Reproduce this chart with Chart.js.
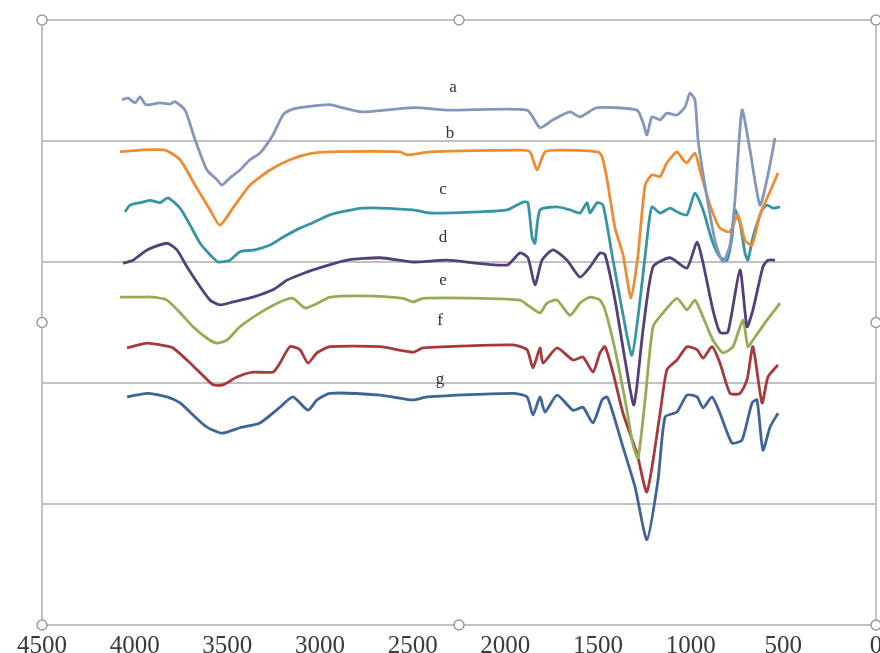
<!DOCTYPE html>
<html lang="en">
<head>
    <meta charset="UTF-8">
    <title>FTIR spectra a-g</title>
    <style>
        body {
            margin: 0;
            background: #ffffff;
            overflow: hidden;
        }
        #wrap {
            width: 890px;
            height: 653px;
        }
    </style>
</head>
<body>
    <div id="wrap"><canvas id="spectra"></canvas></div>

    <script src="https://cdn.jsdelivr.net/npm/chart.js"></script>
    <script>
        // wavenumber (cm-1), transmittance (relative, offset per sample)
        const specA = [[4068,86.8],[4036,87.1],[3998,86.3],[3971,87.3],[3944,86.1],[3917,86.0],[3863,86.3],[3809,86.1],[3782,86.5],[3728,85.1],[3674,80.2],[3610,75.2],[3556,73.6],[3529,72.7],[3486,73.9],[3432,75.2],[3378,76.9],[3324,78.0],[3254,81.0],[3200,84.3],[3162,85.1],[3108,85.5],[2946,86.0],[2892,85.6],[2768,84.8],[2498,85.5],[2299,85.1],[1883,85.1],[1813,82.2],[1743,83.5],[1651,84.8],[1597,84.0],[1505,85.5],[1290,85.1],[1257,83.0],[1236,81.0],[1209,84.0],[1165,83.5],[1128,84.6],[1074,84.3],[1031,85.6],[1004,87.9],[977,86.8],[960,80.2],[923,72.7],[869,63.6],[826,60.0],[788,62.8],[761,70.2],[723,85.1],[680,78.5],[626,69.4],[583,74.4],[545,80.5]];
        const specB = [[4079,78.2],[3971,78.5],[3836,78.5],[3755,76.9],[3674,72.7],[3593,68.6],[3540,66.1],[3459,69.4],[3378,72.7],[3270,75.2],[3162,76.9],[3054,77.9],[2946,78.2],[2568,78.2],[2531,77.7],[2406,78.2],[1921,78.5],[1867,78.2],[1829,75.2],[1786,78.2],[1705,78.5],[1500,78.2],[1478,77.4],[1451,73.6],[1408,65.6],[1365,61.2],[1322,54.0],[1284,61.2],[1246,72.7],[1209,74.4],[1165,74.1],[1128,76.4],[1074,78.2],[1041,76.9],[1020,76.4],[977,78.0],[950,75.2],[896,69.4],[842,65.6],[788,65.0],[745,67.8],[707,63.6],[669,62.8],[626,67.8],[572,71.6],[529,74.7]];
        const specC = [[4052,68.3],[4025,69.4],[3971,69.8],[3917,70.2],[3863,69.8],[3820,70.6],[3755,68.9],[3701,66.1],[3647,63.1],[3593,61.2],[3550,60.0],[3486,60.3],[3432,61.7],[3351,62.0],[3270,62.8],[3200,64.1],[3108,65.6],[3038,66.5],[2946,67.8],[2768,68.9],[2498,68.6],[2406,68.1],[2137,68.3],[1991,68.6],[1905,69.9],[1878,69.8],[1856,64.1],[1840,63.1],[1813,68.6],[1721,69.1],[1651,68.6],[1597,68.1],[1559,69.8],[1543,68.1],[1505,69.8],[1473,69.4],[1424,61.2],[1370,52.1],[1317,44.6],[1273,53.7],[1230,65.3],[1209,69.1],[1165,68.1],[1111,68.9],[1074,68.3],[1020,67.8],[977,71.4],[933,68.6],[885,63.6],[842,60.8],[804,60.3],[777,64.1],[761,68.6],[734,66.5],[707,61.5],[691,60.3],[664,64.1],[615,68.6],[588,69.4],[556,68.9],[518,69.1]];
        const specD = [[4063,59.8],[4009,60.3],[3933,62.0],[3826,63.1],[3772,62.0],[3718,59.2],[3647,55.9],[3593,53.7],[3540,52.9],[3469,53.4],[3362,54.2],[3254,55.4],[3178,57.0],[3108,57.9],[3038,58.7],[2854,60.3],[2676,60.7],[2498,60.0],[2315,60.3],[1991,59.5],[1921,61.5],[1878,60.7],[1840,56.2],[1802,60.3],[1743,62.0],[1667,60.3],[1597,57.5],[1543,59.2],[1489,61.5],[1462,61.2],[1408,53.7],[1354,43.8],[1306,36.4],[1257,48.8],[1203,59.2],[1111,60.7],[1020,59.0],[966,63.3],[933,59.8],[880,52.1],[842,48.4],[799,48.4],[734,58.7],[696,49.3],[664,52.1],[610,59.2],[583,60.3],[545,60.3]];
        const specE = [[4079,54.2],[3971,54.2],[3901,54.2],[3826,53.7],[3755,51.6],[3685,49.3],[3610,47.4],[3556,46.6],[3502,47.1],[3432,49.3],[3324,51.6],[3216,53.4],[3146,54.0],[3081,52.4],[3000,53.4],[2946,54.2],[2768,54.4],[2552,54.0],[2498,53.4],[2444,54.0],[2137,54.0],[1921,53.7],[1867,52.6],[1813,51.6],[1775,53.2],[1721,53.7],[1651,51.2],[1597,53.2],[1543,54.2],[1489,53.7],[1462,52.1],[1408,45.5],[1354,37.2],[1311,29.8],[1284,27.6],[1246,37.2],[1203,49.3],[1149,51.6],[1074,54.0],[1020,52.1],[977,53.7],[933,50.9],[880,47.1],[826,45.0],[772,46.0],[718,50.4],[691,46.0],[664,47.1],[588,50.4],[518,53.2]];
        const specF = [[4041,45.8],[3933,46.6],[3863,46.3],[3793,45.8],[3718,43.8],[3647,41.7],[3577,39.7],[3523,39.7],[3448,41.0],[3362,41.8],[3254,41.8],[3216,43.3],[3162,46.0],[3108,45.5],[3065,43.3],[3016,45.0],[2946,46.0],[2676,46.0],[2498,45.1],[2444,45.8],[1959,46.3],[1883,45.5],[1851,42.5],[1813,45.8],[1797,43.3],[1721,45.8],[1635,43.8],[1581,44.3],[1527,41.8],[1489,45.0],[1462,46.0],[1419,41.7],[1365,35.0],[1290,28.4],[1236,22.0],[1165,35.0],[1128,42.2],[1074,43.8],[1020,46.0],[966,45.5],[933,44.1],[885,46.0],[842,43.3],[788,38.3],[734,38.3],[696,40.5],[664,46.0],[615,36.7],[583,41.0],[529,43.0]];
        const specG = [[4041,37.7],[3933,38.3],[3826,37.7],[3755,36.7],[3685,34.7],[3610,32.7],[3529,31.7],[3432,32.6],[3324,33.4],[3216,36.0],[3146,37.7],[3065,35.5],[3016,37.2],[2946,38.3],[2676,38.0],[2498,37.2],[2423,37.7],[1959,38.3],[1883,37.7],[1851,34.7],[1813,37.7],[1786,35.2],[1721,38.0],[1635,35.5],[1581,36.0],[1527,33.4],[1478,37.2],[1451,37.7],[1419,35.0],[1365,29.4],[1300,22.8],[1236,14.1],[1176,24.0],[1138,34.4],[1074,35.2],[1020,38.0],[966,37.7],[933,35.9],[885,37.7],[842,35.0],[777,30.1],[723,30.6],[669,36.7],[642,37.2],[610,28.9],[572,32.7],[529,35.0]];

        const seriesNames = ['a', 'b', 'c', 'd', 'e', 'f', 'g'];
        const seriesColors = ['#8596bd', '#ec8d35', '#3795a3', '#553f7a', '#94ad55', '#a8393a', '#3f6497'];
        // where the letters sit (wavenumber, transmittance)
        const labelWn = [2282, 2299, 2336, 2336, 2336, 2352, 2352];
        const labelT = [88.9, 81.3, 71.9, 64.1, 57.0, 50.4, 40.5];

        const xTicks = [4500, 4000, 3500, 3000, 2500, 2000, 1500, 1000, 500, 0];

        const gridGray = '#c2c2c2';

        // letters a..g next to each curve
        const curveLetters = {
            id: 'curveLetters',
            afterDatasetsDraw(chart) {
                const ctx = chart.ctx;
                const xs = chart.scales.x, ys = chart.scales.y;
                ctx.save();
                ctx.font = '17px "Liberation Serif", serif';
                ctx.fillStyle = '#333333';
                ctx.textAlign = 'center';
                ctx.textBaseline = 'middle';
                seriesNames.forEach((n, i) => {
                    ctx.fillText(n, xs.getPixelForValue(labelWn[i]), ys.getPixelForValue(labelT[i]));
                });
                ctx.restore();
            }
        };

        // little selection handles round the plot frame
        const frameHandles = {
            id: 'frameHandles',
            afterDraw(chart) {
                const a = chart.chartArea;
                const ctx = chart.ctx;
                const mx = (a.left + a.right) / 2, my = (a.top + a.bottom) / 2;
                const pts = [[a.left, a.top], [mx, a.top], [a.right, a.top], [a.left, my],
                             [a.right, my], [a.left, a.bottom], [mx, a.bottom], [a.right, a.bottom]];
                ctx.save();
                ctx.lineWidth = 1.5;
                ctx.strokeStyle = '#9b9b9b';
                ctx.fillStyle = '#ffffff';
                pts.forEach(p => {
                    ctx.beginPath();
                    ctx.arc(p[0], p[1], 5, 0, Math.PI * 2);
                    ctx.fill();
                    ctx.stroke();
                });
                ctx.restore();
            }
        };

        const allSpectra = [specA, specB, specC, specD, specE, specF, specG];

        new Chart(document.getElementById('spectra'), {
            type: 'line',
            data: {
                datasets: allSpectra.map((s, i) => ({
                    label: seriesNames[i],
                    data: s.map(p => ({ x: p[0], y: p[1] })),
                    borderColor: seriesColors[i],
                    borderWidth: 2.8,
                    pointRadius: 0,
                    tension: 0.2,
                    fill: false
                }))
            },
            options: {
                responsive: true,
                maintainAspectRatio: false,
                animation: false,
                layout: { padding: { left: 42, top: 20, right: 14, bottom: 0 } },
                plugins: {
                    legend: { display: false },
                    tooltip: { enabled: false }
                },
                scales: {
                    x: {
                        type: 'linear',
                        reverse: true,
                        min: 0,
                        max: 4500,
                        afterBuildTicks: (s) => { s.ticks = xTicks.map(v => ({ value: v })); },
                        grid: { display: false, drawTicks: false },
                        border: { color: gridGray, width: 2 },
                        ticks: {
                            padding: 6,
                            maxRotation: 0,
                            autoSkip: false,
                            color: '#3a3a3a',
                            font: { family: '"Liberation Serif", serif', size: 25 },
                            callback: (v) => String(v)
                        },
                        afterFit: (s) => { s.height = 28; }
                    },
                    y: {
                        min: 0,
                        max: 100,
                        ticks: { display: false, stepSize: 20 },
                        grid: { color: gridGray, lineWidth: 2, drawTicks: false },
                        border: { color: gridGray, width: 2 },
                        afterFit: (s) => { s.width = 0; }
                    },
                    y2: {
                        position: 'right',
                        min: 0,
                        max: 100,
                        ticks: { display: false },
                        grid: { display: false, drawTicks: false },
                        border: { color: gridGray, width: 2 },
                        afterFit: (s) => { s.width = 0; }
                    }
                }
            },
            plugins: [curveLetters, frameHandles]
        });
    </script>
</body>
</html>
